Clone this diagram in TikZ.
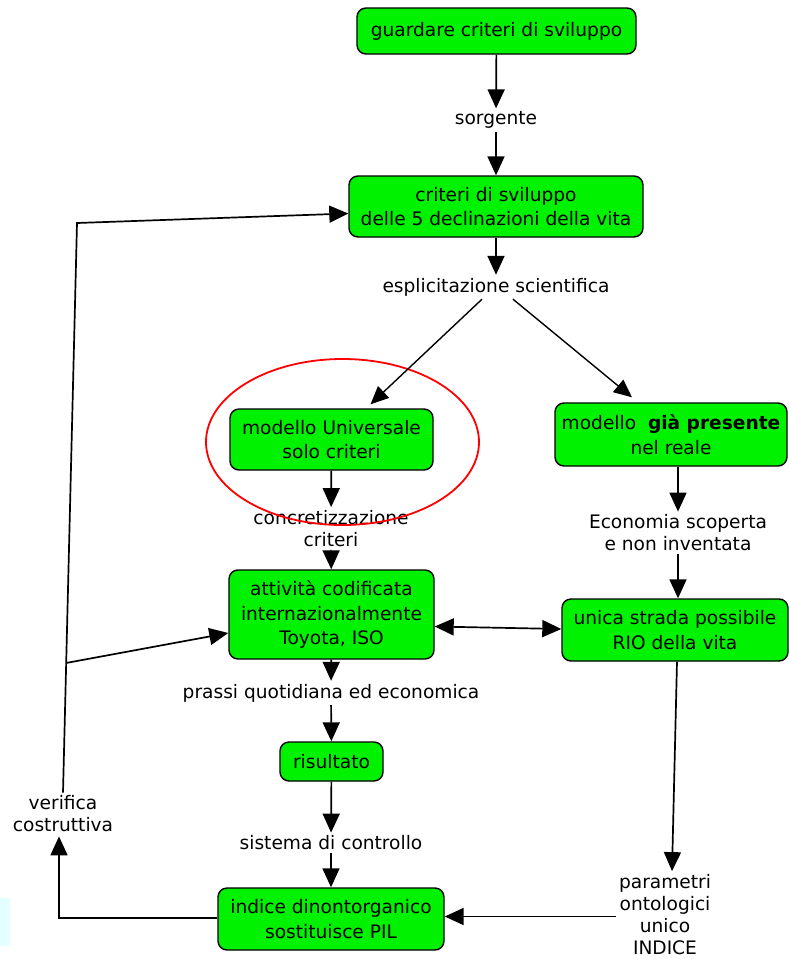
\documentclass[tikz,border=0pt]{standalone}
\usepackage{fontspec}
\setmainfont{DejaVu Sans}
\usetikzlibrary{arrows.meta,calc}
\definecolor{boxgreen}{HTML}{00F200}
\definecolor{paleCyan}{HTML}{E4FFFF}
\begin{document}
\begin{tikzpicture}[x=1pt,y=-1pt,
  box/.style={draw=black, line width=1.4pt, fill=boxgreen, rounded corners=9pt, align=center, inner sep=0pt, font=\fontsize{18.6}{24.5}\selectfont},
  lbl/.style={align=center, inner sep=3pt, font=\fontsize{18.6}{22}\selectfont},
  arr/.style={line width=1.7pt, -{Triangle[width=17pt,length=19pt]}},
  arrthin/.style={line width=1.4pt, -{Triangle[width=16pt,length=18pt]}},
  arrboth/.style={line width=1.7pt, {Triangle[width=17pt,length=19pt]}-{Triangle[width=17pt,length=19pt]}}]
\useasboundingbox (0,0) rectangle (788,959);
\fill[paleCyan] (0,898) rectangle (10,946);
% nodes
\node[box, minimum width=279pt, minimum height=46pt] (b1) at (496.5,31) {guardare criteri di sviluppo};
\node[lbl] (sorg) at (496,120) {sorgente};
\node[box, minimum width=294pt, minimum height=61pt] (b3) at (496,206.5) {criteri di sviluppo\\delle 5 declinazioni della vita};
\node[lbl] (esp) at (496,287) {esplicitazione scientifica};
\node[box, minimum width=203pt, minimum height=61pt] (b5) at (331.5,439.5) {modello Universale\\solo criteri};
\node[box, minimum width=232pt, minimum height=63pt] (b7) at (671,434.5) {modello\ \ \textbf{già presente}\\nel reale};
\node[lbl] (conc) at (331,528.5) {concretizzazione\\criteri};
\node[lbl] (eco) at (678,533) {Economia scoperta\\e non inventata};
\node[box, minimum width=205pt, minimum height=89pt] (b10) at (331.5,614.5) {attività codificata\\internazionalmente\\Toyota, ISO};
\node[box, minimum width=226pt, minimum height=62pt] (b11) at (675,630) {unica strada possibile\\RIO della vita};
\node[lbl] (prassi) at (331,693) {prassi quotidiana ed economica};
\node[box, minimum width=103pt, minimum height=39pt] (b13) at (331.5,761.5) {risultato};
\node[lbl] (sist) at (331,843) {sistema di controllo};
\node[box, minimum width=226pt, minimum height=62pt] (b15) at (331,919) {indice dinontorganico\\sostituisce PIL};
\node[lbl] (par) at (665,914.5) {parametri\\ontologici\\unico\\INDICE};
\node[lbl] (ver) at (63,814) {verifica\\costruttiva};
% red ellipse
\draw[red, line width=1.8pt] (342.5,442) ellipse [x radius=136.5pt, y radius=83pt];
% connectors
\draw[arr] (b1) -- (sorg);
\draw[arr] (sorg) -- (b3);
\draw[arr] (b3) -- (esp);
\draw[arrthin] ([xshift=-14pt]esp.south) -- ([xshift=39pt,yshift=4pt]b5.north);
\draw[arrthin] ([xshift=17pt]esp.south) -- ([xshift=-39pt,yshift=5pt]b7.north);
\draw[arr] (b5) -- (conc);
\draw[arr] (conc) -- (b10);
\draw[arr] (eco |- b7.south) -- (eco.north);
\draw[arr] (eco.south) -- (eco |- b11.north);
\draw[arrboth] ([yshift=-12pt]b10.east) -- ([yshift=1pt]b11.west);
\draw[arr] (b10) -- (prassi);
\draw[arr] (prassi) -- (b13);
\draw[arr] (b13) -- (sist);
\draw[arr] (sist) -- (b15);
\draw[arr] ([xshift=2pt]b11.south) -- ([xshift=7pt]par.north);
\draw[arr] ([yshift=-2pt]par.west) -- ([yshift=-2pt]par.west -| b15.east);
\coordinate (c1) at (59,918);
\draw[arr] (b15.west |- c1) -- (c1) -- ([yshift=-1pt]c1 |- ver.south);
\coordinate (c2) at (77,223);
\draw[arr] (ver.north) -- (c2) -- ([yshift=-7pt]b3.west);
\coordinate (j) at (66,663);
\draw[arr] (j) -- ([yshift=-18.5pt]b10.west);
\end{tikzpicture}
\end{document}
